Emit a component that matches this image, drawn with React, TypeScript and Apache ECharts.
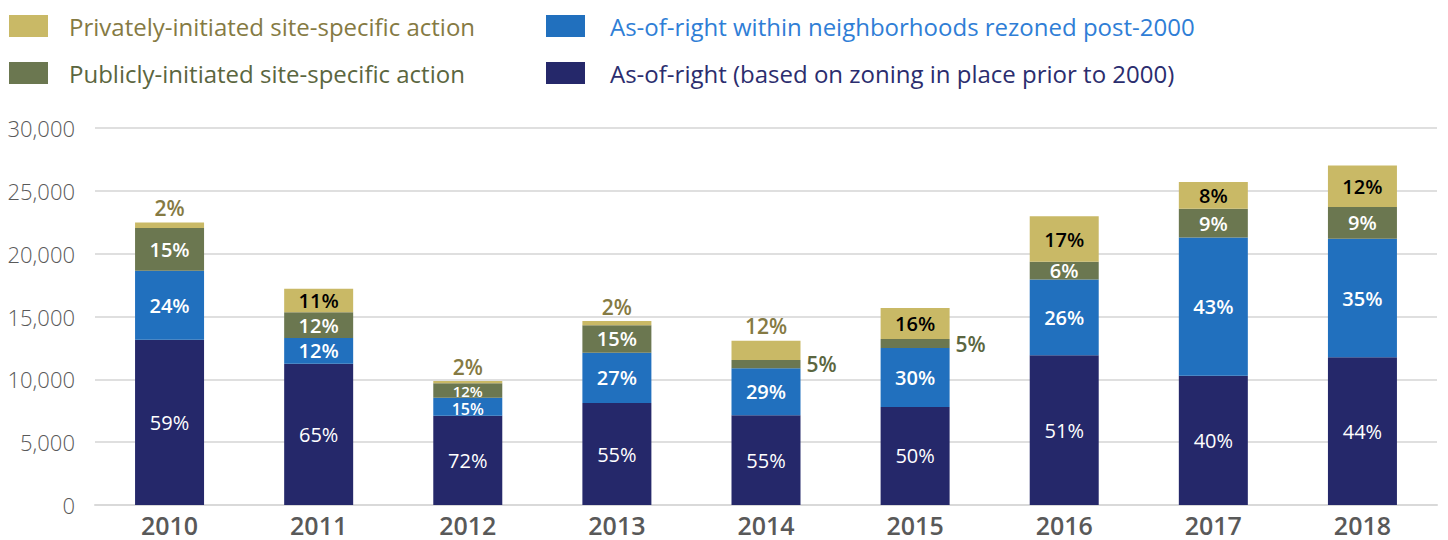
import React, { useEffect, useRef } from "react";
import * as echarts from "echarts";

const years = ["2010", "2011", "2012", "2013", "2014", "2015", "2016", "2017", "2018"];
const asOfRightPre2000 = [13150, 11240, 7100, 8110, 7140, 7800, 11910, 10290, 11750];
const asOfRightRezoned = [5490, 2050, 1440, 4010, 3740, 4690, 6030, 11000, 9440];
const publicAction = [3400, 2040, 1140, 2180, 660, 720, 1410, 2290, 2530];
const privateAction = [450, 1880, 180, 340, 1530, 2460, 3620, 2130, 3290];

const pctPre2000 = ["59%", "65%", "72%", "55%", "55%", "50%", "51%", "40%", "44%"];
const pctRezoned = ["24%", "12%", "15%", "27%", "29%", "30%", "26%", "43%", "35%"];
const pctPublic = ["15%", "12%", "12%", "15%", "5%", "5%", "6%", "9%", "9%"];
const pctPrivate = ["2%", "11%", "2%", "2%", "12%", "16%", "17%", "8%", "12%"];

const privateLabelAbove = [true, false, true, true, true, false, false, false, false];
const publicLabelRight = [false, false, false, false, true, true, false, false, false];
const smallLabel = [false, false, true, false, false, false, false, false, false];

const names = {
  priv: "Privately-initiated site-specific action",
  pub: "Publicly-initiated site-specific action",
  rez: "As-of-right within neighborhoods rezoned post-2000",
  pre: "As-of-right (based on zoning in place prior to 2000)",
};

const C = {
  priv: "#c9b966",
  pub: "#6b7750",
  rez: "#2170be",
  pre: "#25286a",
  privText: "#857a43",
  pubText: "#5b6640",
  rezText: "#2f7ed6",
  preText: "#2b2d6e",
};

const FONT = "'Open Sans', 'Noto Sans', sans-serif";

export default function App() {
  const ref = useRef<HTMLDivElement>(null);

  useEffect(() => {
    if (!ref.current) return;
    const chart = echarts.init(ref.current, undefined, { renderer: "svg" });

    const mkLegend = (name: string, color: string, left: number, top: number, gap: number) => ({
      data: [name],
      left,
      top,
      orient: "horizontal",
      icon: "rect",
      itemWidth: 39,
      itemHeight: 22,
      selectedMode: false,
      textStyle: {
        color,
        fontSize: 24,
        fontFamily: FONT,
        padding: [0, 0, 0, gap],
      },
    });

    const baseLabel = {
      show: true,
      position: "inside",
      fontFamily: FONT,
      fontSize: 20,
      fontWeight: 600,
      color: "#ffffff",
    };

    const option = {
      animation: false,
      textStyle: { fontFamily: FONT },
      legend: [
        mkLegend(names.priv, C.privText, 4, 9, 16),
        mkLegend(names.pub, C.pubText, 4, 56, 16),
        mkLegend(names.rez, C.rezText, 541, 9, 20),
        mkLegend(names.pre, C.preText, 541, 56, 20),
      ],
      grid: { left: 95, right: 11, top: 128, bottom: 35, containLabel: false },
      xAxis: {
        type: "category",
        data: years,
        axisTick: { show: false },
        axisLine: { show: true, lineStyle: { color: "#d9d9d9", width: 2 } },
        axisLabel: {
          color: "#595959",
          fontSize: 25,
          lineHeight: 25,
          fontWeight: 600,
          fontFamily: FONT,
          margin: 7,
        },
      },
      yAxis: {
        type: "value",
        min: 0,
        max: 30000,
        interval: 5000,
        axisLine: { show: false },
        axisTick: { show: false },
        splitLine: { lineStyle: { color: "#d4d4d4", width: 1.5 } },
        axisLabel: {
          color: "#595959",
          fontSize: 22,
          fontWeight: 300,
          fontFamily: FONT,
          margin: 20,
          formatter: (v: number) => v.toLocaleString("en-US"),
        },
      },
      series: [
        {
          name: names.pre,
          type: "bar",
          stack: "total",
          barWidth: 69,
          itemStyle: { color: C.pre },
          label: {
            ...baseLabel,
            fontWeight: 500,
            formatter: (p: any) => pctPre2000[p.dataIndex],
          },
          data: asOfRightPre2000,
        },
        {
          name: names.rez,
          type: "bar",
          stack: "total",
          barWidth: 69,
          itemStyle: { color: C.rez },
          label: {
            ...baseLabel,
            formatter: (p: any) => pctRezoned[p.dataIndex],
          },
          data: asOfRightRezoned.map((v, i) => ({
            value: v,
            label: smallLabel[i] ? { fontSize: 16, lineHeight: 15, offset: [0, 2] } : undefined,
          })),
        },
        {
          name: names.pub,
          type: "bar",
          stack: "total",
          barWidth: 69,
          itemStyle: { color: C.pub },
          label: {
            ...baseLabel,
            formatter: (p: any) => pctPublic[p.dataIndex],
          },
          data: publicAction.map((v, i) => ({
            value: v,
            label: publicLabelRight[i]
              ? { position: "right", distance: 6, color: C.pubText, fontSize: 21 }
              : smallLabel[i]
              ? { fontSize: 15, lineHeight: 14, offset: [0, 0] }
              : undefined,
          })),
        },
        {
          name: names.priv,
          type: "bar",
          stack: "total",
          barWidth: 69,
          itemStyle: { color: C.priv },
          label: {
            ...baseLabel,
            color: "#000000",
            formatter: (p: any) => pctPrivate[p.dataIndex],
          },
          data: privateAction.map((v, i) => ({
            value: v,
            label: privateLabelAbove[i]
              ? { position: "top", distance: 4, color: C.privText, fontSize: 21 }
              : undefined,
          })),
        },
      ],
    };

    chart.setOption(option as any);
    return () => chart.dispose();
  }, []);

  return (
    <div
      ref={ref}
      style={{ position: "fixed", left: 0, top: 0, width: 1448, height: 540, background: "#ffffff" }}
    />
  );
}
